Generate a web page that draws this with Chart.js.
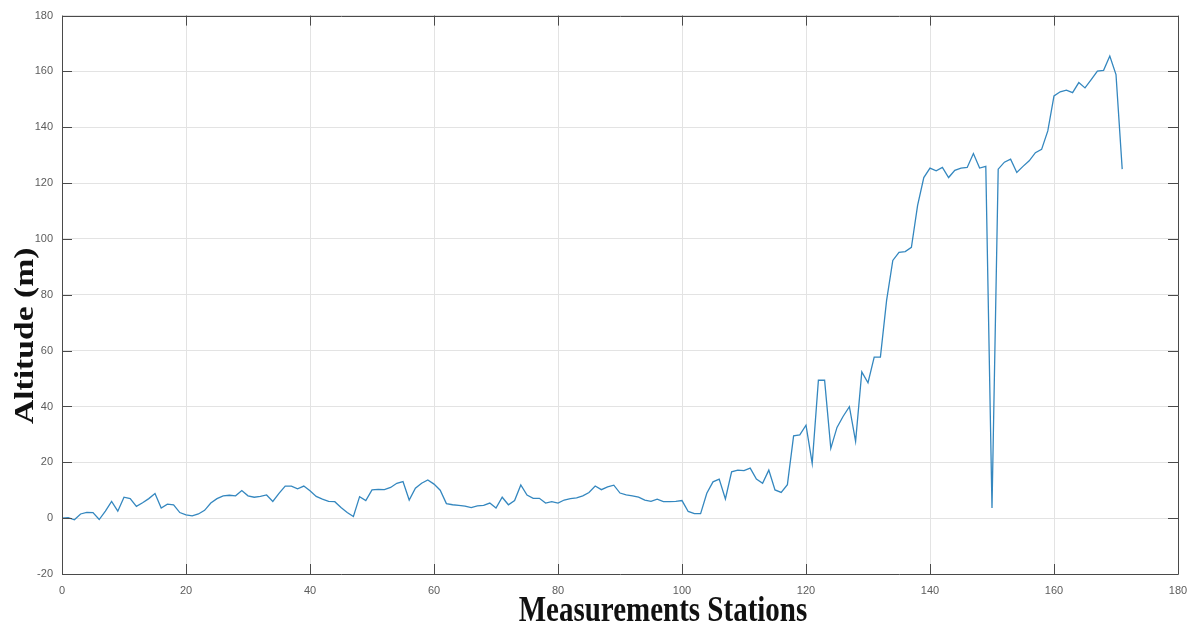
<!DOCTYPE html>
<html>
<head>
<meta charset="utf-8">
<title>Altitude along measurement stations</title>
<script src="https://cdn.jsdelivr.net/npm/chart.js@4.4.1/dist/chart.umd.min.js"></script>
<style>
  html, body { margin: 0; padding: 0; background: #ffffff; }
  #wrap { width: 1200px; height: 628px; position: relative; }
</style>
</head>
<body>
<div id="wrap"><canvas id="chart" width="1200" height="628"></canvas></div>
<script>
// Altitude (m) recorded at each measurement station, stations 0..171
const altitude = [
  0, 0.2, -0.6, 1.5, 2.1, 2, -0.5, 2.5, 6, 2.5,
  7.5, 7, 4.2, 5.5, 7, 8.8, 3.6, 5, 4.8, 2,
  1.2, 0.8, 1.5, 2.8, 5.4, 7, 8, 8.2, 8, 9.9,
  8, 7.5, 7.8, 8.3, 6, 8.9, 11.5, 11.5, 10.5, 11.5,
  9.8, 7.8, 6.8, 6, 5.9, 3.8, 2, 0.6, 7.7, 6.3,
  10.1, 10.3, 10.2, 11, 12.5, 13.1, 6.5, 10.7, 12.5, 13.7,
  12.2, 10, 5.2, 4.8, 4.6, 4.3, 3.8, 4.4, 4.6, 5.4,
  3.6, 7.5, 4.8, 6.3, 11.9, 8.3, 7.1, 7.1, 5.4, 5.9,
  5.4, 6.5, 7, 7.3, 8, 9.2, 11.5, 10.2, 11.2, 11.8,
  9, 8.3, 8, 7.5, 6.5, 6, 6.8, 5.9, 5.9, 6,
  6.3, 2.4, 1.6, 1.6, 8.9, 13, 14, 6.9, 16.6, 17.2,
  17, 17.9, 14, 12.5, 17.2, 10.1, 9.2, 12, 29.5, 29.8,
  33.3, 19.6, 49.4, 49.4, 25, 32.5, 36.5, 39.9, 27.5, 52.4,
  48.5, 57.7, 57.7, 78, 92.3, 95.2, 95.5, 97, 112, 122,
  125.4, 124.4, 125.6, 122, 124.6, 125.4, 125.6, 130.6, 125.4, 126,
  3.6, 125, 127.5, 128.6, 123.8, 126, 128, 130.9, 132.1, 138.7,
  151.2, 152.7, 153.3, 152.4, 156, 154.1, 157.1, 160.1, 160.4, 165.5,
  158.9, 125
];
// Station index for each reading
const stations = altitude.map((_, i) => i);

// Axis ranges and tick spacing
const xTicks = [0, 20, 40, 60, 80, 100, 120, 140, 160, 180];
const yTicks = [-20, 0, 20, 40, 60, 80, 100, 120, 140, 160, 180];

const xTitle = 'Measurements Stations';
const yTitle = 'Altitude (m)';

const points = stations.map((s, i) => ({ x: s, y: altitude[i] }));

// Box around the axes with inward-pointing tick marks on all four sides
const frameTicks = {
  id: 'frameTicks',
  afterDatasetsDraw(chart) {
    const { ctx, chartArea: a, scales } = chart;
    const len = 10;
    ctx.save();
    ctx.strokeStyle = '#4a4a4a';
    ctx.lineWidth = 1;
    ctx.beginPath();
    ctx.rect(Math.round(a.left) + 0.5, Math.round(a.top) + 0.5,
             Math.round(a.right - a.left), Math.round(a.bottom - a.top));
    ctx.stroke();
    ctx.beginPath();
    xTicks.forEach(v => {
      const px = Math.round(scales.x.getPixelForValue(v)) + 0.5;
      ctx.moveTo(px, a.bottom); ctx.lineTo(px, a.bottom - len);
      ctx.moveTo(px, a.top); ctx.lineTo(px, a.top + len);
    });
    yTicks.forEach(v => {
      const py = Math.round(scales.y.getPixelForValue(v)) + 0.5;
      ctx.moveTo(a.left, py); ctx.lineTo(a.left + len, py);
      ctx.moveTo(a.right, py); ctx.lineTo(a.right - len, py);
    });
    ctx.stroke();
    ctx.restore();
  }
};

// Bold serif axis titles
const axisTitles = {
  id: 'axisTitles',
  afterDraw(chart) {
    const { ctx, chartArea: a } = chart;
    ctx.save();
    ctx.fillStyle = '#111111';
    ctx.textAlign = 'center';
    ctx.textBaseline = 'alphabetic';

    ctx.font = 'bold 29px "Liberation Serif", "Times New Roman", serif';
    ctx.save();
    ctx.translate(a.left + (a.right - a.left) * 0.5385, 621);
    ctx.scale(1, 1.25);
    ctx.fillText(xTitle, 0, 0);
    ctx.restore();

    ctx.font = 'bold 28px "Liberation Serif", "Times New Roman", serif';
    ctx.save();
    ctx.translate(33, a.top + (a.bottom - a.top) * 0.5735);
    ctx.scale(1, 1.2);
    ctx.rotate(-Math.PI / 2);
    ctx.fillText(yTitle, 0, 0);
    ctx.restore();

    ctx.restore();
  }
};

new Chart(document.getElementById('chart'), {
  type: 'line',
  data: {
    datasets: [{
      label: 'Altitude',
      data: points,
      borderColor: '#3487bf',
      borderWidth: 1.3,
      pointRadius: 0,
      tension: 0,
      fill: false
    }]
  },
  options: {
    responsive: false,
    animation: false,
    layout: { padding: { top: 14, right: 22, left: 0, bottom: 0 } },
    plugins: {
      legend: { display: false },
      tooltip: { enabled: false }
    },
    scales: {
      x: {
        type: 'linear',
        min: 0,
        max: 180,
        afterFit(scale) { scale.height = 54; },
        afterBuildTicks(scale) { scale.ticks = xTicks.map(v => ({ value: v })); },
        grid: { color: '#e3e3e3', lineWidth: 1, drawTicks: false },
        border: { display: false },
        ticks: {
          padding: 10,
          color: '#5c5c5c',
          font: { family: '"Liberation Sans", Arial, sans-serif', size: 11 },
          maxRotation: 0
        }
      },
      y: {
        type: 'linear',
        min: -20,
        max: 180,
        afterFit(scale) { scale.width = 62; },
        afterBuildTicks(scale) { scale.ticks = yTicks.map(v => ({ value: v })); },
        grid: { color: '#e3e3e3', lineWidth: 1, drawTicks: false },
        border: { display: false },
        ticks: {
          padding: 9,
          color: '#5c5c5c',
          font: { family: '"Liberation Sans", Arial, sans-serif', size: 11 }
        }
      }
    }
  },
  plugins: [frameTicks, axisTitles]
});
</script>
</body>
</html>
